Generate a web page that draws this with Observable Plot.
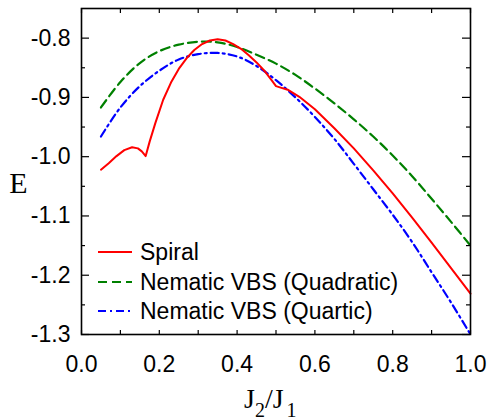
<!DOCTYPE html>
<html><head><meta charset="utf-8">
<script src="https://cdn.jsdelivr.net/npm/d3@7"></script>
<script src="https://cdn.jsdelivr.net/npm/@observablehq/plot@0.6"></script>
<style>body{margin:0;background:#fff}</style>
</head><body><div id="chart"></div>
<script>
// ---- data ----
const spiralJ = [0.05,0.07,0.09,0.11,0.13,0.145,0.155,0.165,0.175,0.19,0.21,0.23,0.25,0.27,0.29,0.31,0.33,0.35,0.37,0.39,0.41,0.43,0.45,0.47,0.49,0.50,0.51,0.53,0.56,0.60,0.65,0.70,0.75,0.80,0.85,0.90,0.95,1.00];
const spiralE = [-1.022,-1.011,-0.999,-0.989,-0.984,-0.986,-0.991,-0.999,-0.975,-0.943,-0.904,-0.875,-0.852,-0.834,-0.820,-0.810,-0.804,-0.802,-0.804,-0.810,-0.818,-0.829,-0.841,-0.855,-0.872,-0.881,-0.883,-0.887,-0.899,-0.920,-0.952,-0.986,-1.023,-1.062,-1.103,-1.145,-1.188,-1.231];
const quadJ = [0.05,0.10,0.15,0.20,0.25,0.30,0.35,0.40,0.45,0.50,0.55,0.60,0.65,0.70,0.75,0.80,0.85,0.90,0.95,1.00];
const quadE = [-0.917,-0.874,-0.842,-0.822,-0.811,-0.806,-0.807,-0.815,-0.828,-0.843,-0.862,-0.885,-0.910,-0.937,-0.966,-0.998,-1.033,-1.071,-1.110,-1.150];
const quarJ = [0.05,0.10,0.15,0.20,0.25,0.30,0.35,0.40,0.45,0.50,0.55,0.60,0.65,0.70,0.75,0.80,0.85,0.90,0.95,1.00];
const quarE = [-0.966,-0.917,-0.881,-0.855,-0.836,-0.827,-0.825,-0.831,-0.847,-0.871,-0.900,-0.933,-0.970,-1.012,-1.055,-1.098,-1.144,-1.195,-1.246,-1.300];
const seriesNames = ["Spiral","Nematic VBS (Quadratic)","Nematic VBS (Quartic)"];
const seriesColors = ["#ff0000","#008000","#0000ff"];
const seriesDash = [null,"9,5","8,4,2,4"];
const xTickLabels = [0,0.2,0.4,0.6,0.8,1.0];
const xTicksAll = [0,0.1,0.2,0.3,0.4,0.5,0.6,0.7,0.8,0.9,1.0];
const yTickLabels = [-0.8,-0.9,-1.0,-1.1,-1.2,-1.3];
const yMinorTicks = [-0.85,-0.95,-1.05,-1.15,-1.25];

const W=490,H=420,mL=81,mR=20,mT=8,mB=86;
const pw=W-mL-mR, ph=H-mT-mB;
const toRows=(xs,ys)=>xs.map((x,i)=>({x,y:ys[i]}));
const sets=[toRows(spiralJ,spiralE),toRows(quadJ,quadE),toRows(quarJ,quarE)];
const sans="'Liberation Sans', Arial, sans-serif";

const plot = Plot.plot({
  width:W,height:H,marginLeft:mL,marginRight:mR,marginTop:mT,marginBottom:mB,
  style:{fontFamily:sans,fontSize:"23px",background:"#fff",color:"#000",overflow:"visible"},
  x:{domain:[0,1]},
  y:{domain:[-1.3,-0.75]},
  marks:[
    Plot.line(sets[1],{x:"x",y:"y",stroke:seriesColors[1],strokeWidth:2.2,strokeDasharray:seriesDash[1],curve:"catmull-rom"}),
    Plot.line(sets[2],{x:"x",y:"y",stroke:seriesColors[2],strokeWidth:2.2,strokeDasharray:seriesDash[2],curve:"catmull-rom"}),
    Plot.line(sets[0],{x:"x",y:"y",stroke:seriesColors[0],strokeWidth:2,curve:"linear"}),
    Plot.tickX(xTicksAll,{x:d=>d,insetTop:ph-4,stroke:"#000",strokeWidth:1.2}),
    Plot.tickX(xTicksAll,{x:d=>d,insetBottom:ph-5,stroke:"#000",strokeWidth:1.2}),
    Plot.tickY(yTickLabels,{y:d=>d,insetRight:pw-8,stroke:"#000",strokeWidth:1.2}),
    Plot.tickY(yTickLabels,{y:d=>d,insetLeft:pw-8,stroke:"#000",strokeWidth:1.2}),
    Plot.tickY(yMinorTicks,{y:d=>d,insetRight:pw-4,stroke:"#000",strokeWidth:1.2}),
    Plot.tickY(yMinorTicks,{y:d=>d,insetLeft:pw-4,stroke:"#000",strokeWidth:1.2}),
    Plot.axisX(xTickLabels,{tickSize:0,tickPadding:21,tickFormat:d=>d.toFixed(1),fontSize:23,label:null}),
    Plot.axisY(yTickLabels,{tickSize:0,tickPadding:11,tickFormat:d=>d.toFixed(1),fontSize:23,label:null}),
    Plot.frame({stroke:"#000",strokeWidth:1.6})
  ]
});
document.getElementById("chart").appendChild(plot);

const svg=d3.select(plot);
// legend
const rowsY=[252,282,311];
seriesNames.forEach((name,i)=>{
  svg.append("line").attr("x1",98).attr("x2",132).attr("y1",rowsY[i]).attr("y2",rowsY[i])
    .attr("stroke",seriesColors[i]).attr("stroke-width",2.2)
    .attr("stroke-dasharray",seriesDash[i]||null);
  svg.append("text").attr("x",140).attr("y",rowsY[i]).attr("dy","0.35em")
    .attr("text-anchor","start")
    .attr("font-family",sans).attr("font-size",23).attr("fill","#000").text(name);
});
// axis labels
const serif="'Liberation Serif','Times New Roman',serif";
svg.append("text").attr("x",18.5).attr("y",182).attr("dy","0.35em").attr("text-anchor","middle")
  .attr("font-family",serif).attr("font-size",30).attr("fill","#000").text("E");
const xl=svg.append("text").attr("x",244).attr("y",408).attr("text-anchor","start")
  .attr("font-family",serif).attr("font-size",28).attr("fill","#000");
xl.append("tspan").text("J");
xl.append("tspan").attr("font-size",20).attr("dy",9).text("2");
xl.append("tspan").attr("dy",-9).text("/");
xl.append("tspan").text("J");
xl.append("tspan").attr("font-size",20).attr("dy",9).attr("dx",3).text("1");
</script></body></html>
